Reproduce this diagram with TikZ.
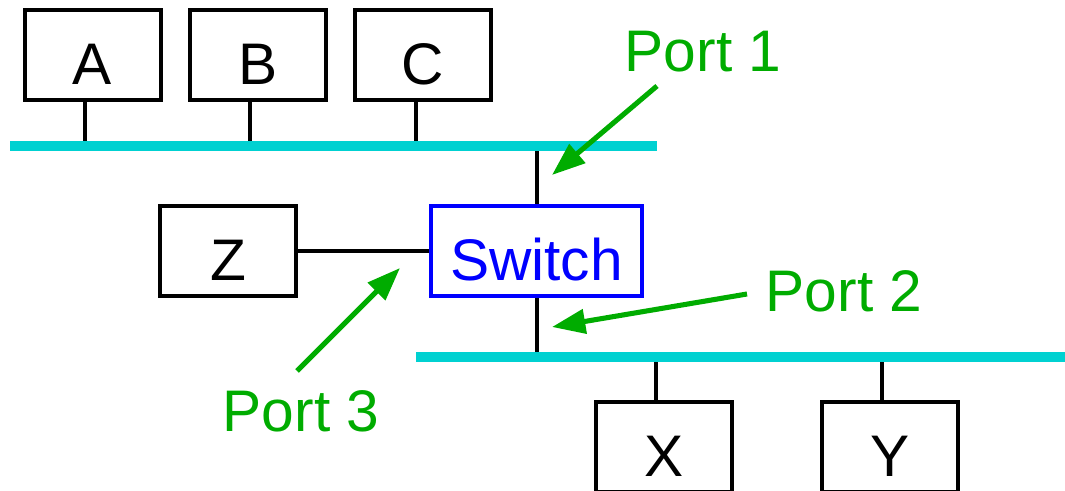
\documentclass[tikz,border=0pt]{standalone}
\usepackage{fontspec}
\setmainfont{Liberation Sans}
\usetikzlibrary{arrows.meta}
\definecolor{buscyan}{RGB}{0,209,209}
\definecolor{portgreen}{RGB}{0,172,0}
\definecolor{swblue}{RGB}{0,0,255}
\tikzset{
  host/.style={draw=black, line width=3pt, minimum width=102pt, minimum height=67.5pt,
    inner sep=0pt, text height=45pt, text depth=0pt, font=\fontsize{44}{50}\selectfont},
  switchbox/.style={host, draw=swblue, text=swblue, minimum width=158pt},
  wire/.style={line width=3pt, black},
  bus/.style={line width=7.5pt, buscyan},
  portlbl/.style={text=portgreen, inner sep=0pt, anchor=base, font=\fontsize{44}{50}\selectfont},
  portarrow/.style={portgreen, line width=3.8pt, -{Triangle[length=25pt,width=18pt]}},
}
\begin{document}
\begin{tikzpicture}[x=0.75pt, y=-0.75pt]
\useasboundingbox (0,0) rectangle (1065,491);
% hosts
\node[host] (A) at (92.5,55) {A};
\node[host] (B) at (258,55) {B};
\node[host] (C) at (423,55) {C};
\node[host] (Z) at (228,251) {Z};
\node[switchbox] (S) at (536.5,251) {Switch};
\node[host] (X) at (664,447) {X};
\node[host] (Y) at (890,447) {Y};
% bus coordinates
\coordinate (b1L) at (10,146);
\coordinate (b1R) at (657,146);
\coordinate (b2L) at (416,357);
\coordinate (b2R) at (1065,357);
\coordinate (tA) at (85,146);
\coordinate (tB) at (250,146);
\coordinate (tC) at (416,146);
\coordinate (tS1) at (537,146);
\coordinate (tS2) at (537,357);
\coordinate (tX) at (656,357);
\coordinate (tY) at (882,357);
% stubs
\draw[wire] (A.south -| tA) -- (tA);
\draw[wire] (B.south -| tB) -- (tB);
\draw[wire] (C.south -| tC) -- (tC);
\draw[wire] (S.north -| tS1) -- (tS1);
\draw[wire] (S.south -| tS2) -- (tS2);
\draw[wire] (X.north -| tX) -- (tX);
\draw[wire] (Y.north -| tY) -- (tY);
\draw[wire] (Z.east) -- (S.west);
% buses
\draw[bus] (b1L) -- (b1R);
\draw[bus] (b2L) -- (b2R);
% port labels
\node[portlbl] (P1) at (703,72) {Port 1};
\node[portlbl] (P2) at (844,312) {Port 2};
\node[portlbl] (P3) at (301,432) {Port 3};
\coordinate (a1s) at (657,86);
\coordinate (a1e) at (552,175);
\coordinate (a2s) at (747,294);
\coordinate (a2e) at (552,327);
\coordinate (a3s) at (297,371);
\coordinate (a3e) at (400,268);
\draw[portarrow] (a1s) -- (a1e);
\draw[portarrow] (a2s) -- (a2e);
\draw[portarrow] (a3s) -- (a3e);
\end{tikzpicture}
\end{document}
